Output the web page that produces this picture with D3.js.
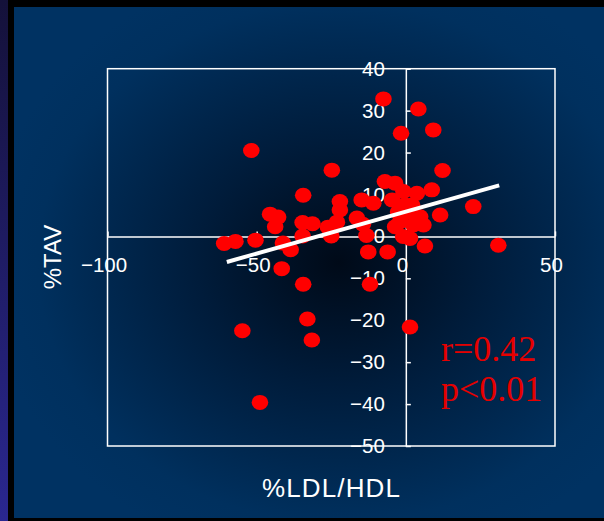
<!DOCTYPE html>
<html>
<head>
<meta charset="utf-8">
<script src="https://cdn.jsdelivr.net/npm/d3@7"></script>
<style>
  html, body { margin: 0; padding: 0; background: #000; }
  svg { display: block; }
</style>
</head>
<body>
<div id="chart"></div>
<script>
// values
let ldlHdl = [-51.8, -34.4, -45.5, -42.8, -43.8, -60.9, -57.1, -50.4, -41.2, -38.6,
  -41.6, -34.6, -31.3, -34.6, -34.4, -33.0, -31.5, -54.8, -48.9, -24.8,
  -22.1, -22.1, -25.0, -23.1, -26.1, -14.8, -10.9, -14.4, -13.2, -16.4,
  -12.6, -6.1, -12.0, -7.5, 4.2, -1.6, 9.2, 12.3, -7.0, -3.6,
  -0.8, 3.7, 8.7, 22.6, 11.5, 4.8, -1.9, -3.6, 2.5, 5.9,
  1.4, 6.4, 31.0, 1.4, -0.3, -4.6, 2.1, -2.6, 1.4, -0.9];
let tav = [20.5, 9.8, 5.3, 4.6, 2.3, -1.7, -1.2, -0.9, -1.6, -3.2,
  -7.7, 3.3, 3.0, 0.1, -11.4, -19.7, -24.7, -22.5, -39.6, 15.8,
  8.3, 6.3, 0.1, 3.4, 2.2, 8.7, 7.9, 2.9, 0.2, 4.4,
  -3.7, -3.7, -11.4, 32.8, 30.4, 24.6, 25.4, 15.7, 13.1, 12.7,
  10.7, 10.3, 11.1, 7.1, 5.1, 4.7, 3.5, 2.3, 2.7, 2.7,
  -0.5, -2.3, -2.1, -21.6, 7.5, 8.7, 7.5, 5.8, 5.8, 0.0];

let xTicks = [-100, -50, 0, 50];
let yTicks = [-50, -40, -30, -20, -10, 0, 10, 20, 30, 40];

let fitRange = [-60, 31.3];
let fitSlope = 0.2, fitIntercept = 5.9;
let statLines = ["r=0.42", "p<0.01"];

let width = 604, height = 521;

let svg = d3.select("#chart").append("svg")
    .attr("width", width)
    .attr("height", height);

let defs = svg.append("defs");

let side = defs.append("linearGradient")
    .attr("id", "side")
    .attr("x1", 0).attr("y1", 0).attr("x2", 0).attr("y2", 1);
side.append("stop").attr("offset", 0).attr("stop-color", "#14113a");
side.append("stop").attr("offset", 1).attr("stop-color", "#2a2790");

let glow = defs.append("radialGradient")
    .attr("id", "glow")
    .attr("cx", 0.55).attr("cy", 0.5).attr("r", 0.6);
glow.append("stop").attr("offset", 0).attr("stop-color", "#000a18");
glow.append("stop").attr("offset", 0.4).attr("stop-color", "#001c3b");
glow.append("stop").attr("offset", 0.85).attr("stop-color", "#00305e");
glow.append("stop").attr("offset", 1).attr("stop-color", "#003262");

svg.append("rect")
    .attr("width", width).attr("height", height)
    .attr("fill", "#000");
svg.append("rect")
    .attr("width", 8).attr("height", height)
    .attr("fill", "url(#side)");
svg.append("rect")
    .attr("x", 14).attr("y", 7)
    .attr("width", width - 14).attr("height", 511)
    .attr("fill", "url(#glow)");

let x = d3.scaleLinear().domain([-100, 50]).range([107.5, 555]);
let y = d3.scaleLinear().domain([-50, 40]).range([446, 68.7]);

// frame
svg.append("rect")
    .attr("x", x(-100)).attr("y", y(40))
    .attr("width", x(50) - x(-100)).attr("height", y(-50) - y(40))
    .attr("fill", "none")
    .attr("stroke", "#fff")
    .attr("stroke-width", 1.5);

let xAxis = svg.append("g")
    .attr("transform", "translate(0," + y(0) + ")")
    .call(d3.axisBottom(x).tickValues(xTicks).tickSizeInner(-5).tickSizeOuter(0).tickPadding(21));

let yAxis = svg.append("g")
    .attr("transform", "translate(" + x(0) + ",0)")
    .call(d3.axisLeft(y).tickValues(yTicks).tickSizeInner(-5).tickSizeOuter(0).tickPadding(21));

svg.selectAll(".domain, .tick line")
    .attr("stroke", "#fff")
    .attr("stroke-width", 1.5);
svg.selectAll(".tick text")
    .attr("fill", "#fff")
    .style("font-family", "'Liberation Sans', Arial, sans-serif")
    .style("font-size", "20.5px");
xAxis.selectAll(".tick text").attr("dx", -4);

// points
svg.append("g").selectAll("ellipse")
    .data(ldlHdl.map((d, i) => [d, tav[i]]))
    .enter()
    .append("ellipse")
    .attr("cx", d => x(d[0]))
    .attr("cy", d => y(d[1]))
    .attr("rx", 8.3)
    .attr("ry", 7.5)
    .attr("fill", "#ff0000");

// regression line
svg.append("line")
    .attr("x1", x(fitRange[0])).attr("y1", y(fitSlope * fitRange[0] + fitIntercept))
    .attr("x2", x(fitRange[1])).attr("y2", y(fitSlope * fitRange[1] + fitIntercept))
    .attr("stroke", "#fff")
    .attr("stroke-width", 4);

// stats
svg.append("g").selectAll("text")
    .data(statLines)
    .enter()
    .append("text")
    .attr("x", 441)
    .attr("y", (d, i) => 361 + i * 40)
    .attr("fill", "#e60000")
    .style("font-family", "'Liberation Serif', 'Times New Roman', serif")
    .style("font-size", "36px")
    .text(d => d);

// axis titles
svg.append("text")
    .attr("x", 331).attr("y", 497)
    .attr("text-anchor", "middle")
    .attr("fill", "#fff")
    .style("font-family", "'Liberation Sans', Arial, sans-serif")
    .style("font-size", "26px")
    .attr("textLength", 138)
    .text("%LDL/HDL");

svg.append("text")
    .attr("transform", "translate(61,257) rotate(-90)")
    .attr("text-anchor", "middle")
    .attr("fill", "#fff")
    .style("font-family", "'Liberation Sans', Arial, sans-serif")
    .style("font-size", "24px")
    .text("%TAV");
</script>
</body>
</html>
